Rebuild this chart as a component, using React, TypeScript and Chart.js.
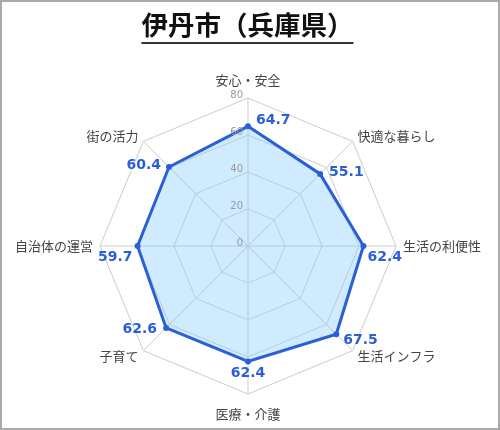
import React, { useEffect, useRef } from "react";
import { Chart, registerables } from "chart.js";

Chart.register(...registerables);

const titleText = "伊丹市（兵庫県）";
const categories = [
  "安心・安全",
  "快適な暮らし",
  "生活の利便性",
  "生活インフラ",
  "医療・介護",
  "子育て",
  "自治体の運営",
  "街の活力",
];
const scores = [64.7, 55.1, 62.4, 67.5, 62.4, 62.6, 59.7, 60.4];
const tickValues = [0, 20, 40, 60, 80];

// value label placement relative to its point (style only)
const valueLabelOffsets: { dx: number; dy: number; align: CanvasTextAlign }[] = [
  { dx: 8, dy: -6, align: "left" },
  { dx: 9, dy: -2, align: "left" },
  { dx: 4, dy: 11, align: "left" },
  { dx: 7, dy: 6, align: "left" },
  { dx: 0, dy: 12, align: "center" },
  { dx: -9, dy: 1, align: "right" },
  { dx: -5, dy: 11, align: "right" },
  { dx: -8, dy: -2, align: "right" },
];

const BLUE = "#2b5fd8";
const JP = '"Noto Sans CJK JP", "Noto Sans", sans-serif';
const NUM = '"DejaVu Sans", "Noto Sans CJK JP", sans-serif';

const decorPlugin = {
  id: "decor",
  afterDraw(chart: any) {
    const ctx: CanvasRenderingContext2D = chart.ctx;
    const scale = chart.scales.r;
    const cx = scale.xCenter;
    const cy = scale.yCenter;
    const r = scale.drawingArea;
    ctx.save();

    // border
    ctx.strokeStyle = "#aaaaaa";
    ctx.lineWidth = 2;
    ctx.strokeRect(1, 1, chart.width - 2, chart.height - 2);

    // title
    ctx.font = "bold 26.5px " + JP;
    ctx.fillStyle = "#111111";
    ctx.textAlign = "center";
    ctx.textBaseline = "middle";
    const tx = chart.width / 2 - 2.5;
    ctx.fillText(titleText, tx, 25);
    const tw = ctx.measureText(titleText).width;
    ctx.strokeStyle = "#333333";
    ctx.lineWidth = 2;
    ctx.beginPath();
    ctx.moveTo(tx - tw / 2, 43);
    ctx.lineTo(tx + tw / 2, 43);
    ctx.stroke();

    // tick labels
    ctx.font = "10px " + NUM;
    ctx.fillStyle = "#999999";
    ctx.textAlign = "right";
    ctx.textBaseline = "middle";
    tickValues.forEach((v) => {
      const d = scale.getDistanceFromCenterForValue(v);
      ctx.fillText(String(v), cx - 5, cy - d - 3);
    });

    // point labels
    ctx.font = "13px " + JP;
    ctx.fillStyle = "#444444";
    ctx.textBaseline = "middle";
    categories.forEach((label, i) => {
      const p = scale.getPointPosition(i, r + 7);
      const angle = scale.getIndexAngle(i);
      const s = Math.sin(angle);
      const c = Math.cos(angle);
      let y = p.y;
      if (Math.abs(s) < 0.01) {
        ctx.textAlign = "center";
        y = p.y + (c > 0 ? -11 : 13);
      } else {
        ctx.textAlign = s > 0 ? "left" : "right";
      }
      ctx.fillText(label, p.x, y);
    });

    // value labels
    const meta = chart.getDatasetMeta(0);
    ctx.font = "bold 14px " + NUM;
    ctx.fillStyle = BLUE;
    ctx.textBaseline = "middle";
    meta.data.forEach((pt: any, i: number) => {
      const o = valueLabelOffsets[i];
      ctx.textAlign = o.align;
      ctx.fillText(String(scores[i]), pt.x + o.dx, pt.y + o.dy);
    });

    ctx.restore();
  },
};

export default function App() {
  const ref = useRef<HTMLCanvasElement>(null);
  useEffect(() => {
    if (!ref.current) return;
    const chart = new Chart(ref.current, {
      type: "radar",
      data: {
        labels: categories,
        datasets: [
          {
            data: scores,
            borderColor: BLUE,
            backgroundColor: "rgba(135, 206, 250, 0.4)",
            borderWidth: 3,
            pointRadius: 3,
            pointBackgroundColor: BLUE,
            pointBorderWidth: 0,
            fill: true,
          },
        ],
      },
      options: {
        responsive: false,
        animation: false,
        layout: { padding: { left: 100, right: 104, top: 98, bottom: 36 } },
        plugins: {
          legend: { display: false },
          tooltip: { enabled: false },
          title: { display: false },
        },
        scales: {
          r: {
            min: 0,
            max: 80,
            beginAtZero: true,
            ticks: { stepSize: 20, display: false },
            grid: { color: "#cccccc", lineWidth: 1 },
            angleLines: { color: "#cccccc", lineWidth: 1 },
            pointLabels: { display: false },
          },
        },
      },
      plugins: [decorPlugin],
    });
    return () => chart.destroy();
  }, []);
  return (
    <div style={{ position: "absolute", left: 0, top: 0, width: 500, height: 430, background: "#fff" }}>
      <canvas ref={ref} width={500} height={430} style={{ display: "block" }} />
    </div>
  );
}
